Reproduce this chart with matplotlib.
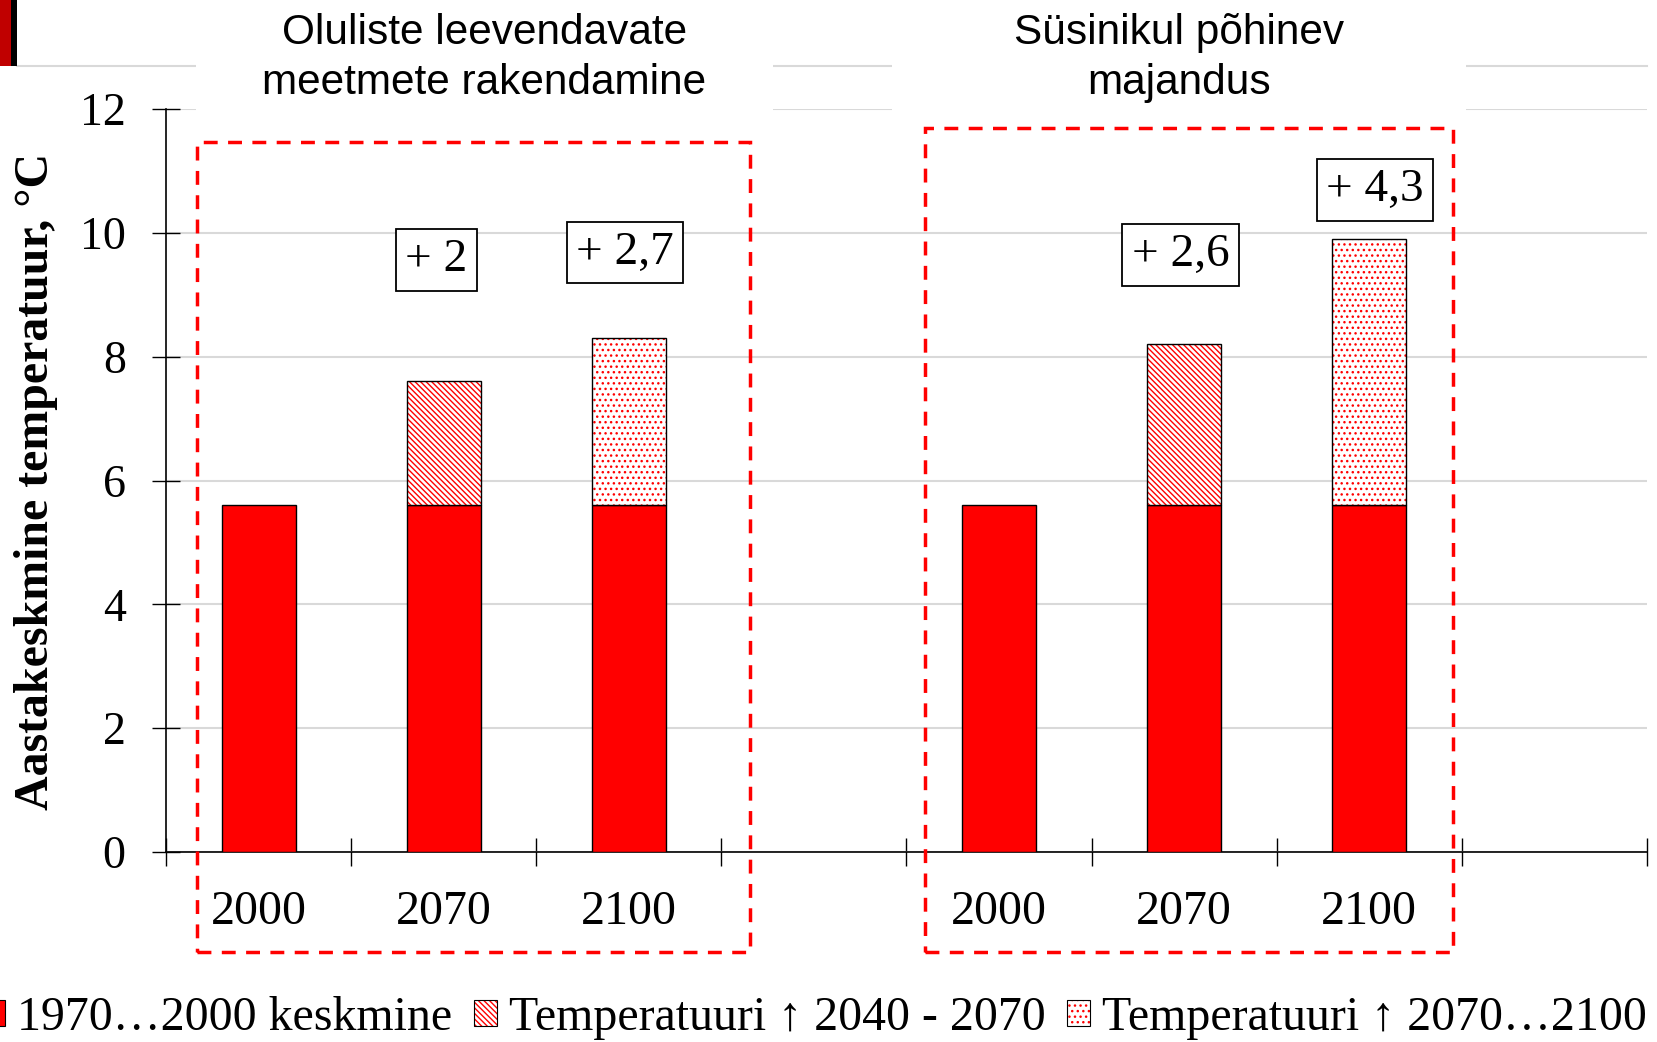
import matplotlib
matplotlib.use('Agg')
import matplotlib.pyplot as plt
from matplotlib.patches import Patch, Rectangle
from matplotlib.lines import Line2D
import numpy as np

# ---------------- data ----------------
categories = ['2000', '2070', '2100', '', '2000', '2070', '2100', '']
baseline = [5.6, 5.6, 5.6, 0, 5.6, 5.6, 5.6, 0]
rise_2070 = [0, 2.0, 0, 0, 0, 2.6, 0, 0]
rise_2100 = [0, 0, 2.7, 0, 0, 0, 4.3, 0]
rise_labels = ['', '+ 2', '+ 2,7', '', '', '+ 2,6', '+ 4,3', '']
scenario_titles = ['Oluliste leevendavate\nmeetmete rakendamine',
                   'Süsinikul põhinev\nmajandus']
legend_labels = ['1970…2000 keskmine', 'Temperatuuri ↑ 2040 - 2070',
                 'Temperatuuri ↑ 2070…2100']
yticks = [0, 2, 4, 6, 8, 10, 12]
ylabel = 'Aastakeskmine temperatuur, °C'

# ---------------- layout ----------------
W, H = 1658, 1042
DPI = 100
label_dx = [0, -0.04, -0.02, 0, 0, -0.02, 0.03, 0]
label_y = [0, 9.56, 9.68, 0, 0, 9.64, 10.69, 0]
SERIF = ['Liberation Serif', 'DejaVu Serif']
SANS = ['Liberation Sans', 'DejaVu Sans']
RED = '#ff0000'

fig = plt.figure(figsize=(W / DPI, H / DPI), dpi=DPI)
fig.patch.set_facecolor('white')

def fx(px):
    return px / W

def fy(py):
    return 1 - py / H

ax = fig.add_axes([fx(166), fy(852), fx(1647) - fx(166), fy(109) - fy(852)])

x = np.arange(len(categories))
w = 0.4

base_x = [xi for xi, b in zip(x, baseline) if b > 0]
base_v = [b for b in baseline if b > 0]
ax.bar(base_x, base_v, w, color=RED, edgecolor='black', linewidth=1, zorder=3)

hatches = ['\\\\\\\\\\\\', '...']
for rise, hatch in zip([rise_2070, rise_2100], hatches):
    rx = [xi for xi, r in zip(x, rise) if r > 0]
    rv = [r for r in rise if r > 0]
    rb = [b for b, r in zip(baseline, rise) if r > 0]
    ax.bar(rx, rv, w, bottom=rb, facecolor='white', edgecolor=RED,
           hatch=hatch, linewidth=0, zorder=3)
    ax.bar(rx, rv, w, bottom=rb, fill=False, edgecolor='black',
           linewidth=1, zorder=4)

for xi, lab, dx, ly in zip(x, rise_labels, label_dx, label_y):
    if lab:
        ax.text(xi + dx, ly, lab, ha='center', va='center', fontsize=34,
                family=SERIF, zorder=6,
                bbox=dict(boxstyle='square,pad=0.2', facecolor='white',
                          edgecolor='black', linewidth=1.3))

ax.set_xlim(-0.5, len(categories) - 0.5)
ax.set_ylim(0, 12)
ax.set_yticks(yticks)
ax.set_yticklabels([str(t) for t in yticks], family=SERIF, fontsize=33)
ax.set_xticks(x)
ax.set_xticklabels(categories, family=SERIF, fontsize=34.5)
ax.set_xticks(np.arange(-0.5, len(categories), 1), minor=True)
ax.tick_params(axis='x', which='major', length=0, pad=27)
ax.tick_params(axis='x', which='minor', length=20, width=1, direction='inout')
ax.tick_params(axis='y', which='major', length=20, width=1, direction='inout', pad=19)

for s in ['top', 'right']:
    ax.spines[s].set_visible(False)
for s in ['left', 'bottom']:
    ax.spines[s].set_linewidth(1.2)
ax.yaxis.grid(True, color='#d9d9d9', linewidth=1.5)
ax.set_axisbelow(True)

# y label
fig.text(fx(36), fy(481), ylabel, rotation=90, ha='center', va='center',
         fontsize=34.5, fontweight='bold', family=SERIF)

# header line & decoration
fig.add_artist(Line2D([fx(17), fx(1647)], [fy(66), fy(66)], color='#d9d9d9',
                      linewidth=1.5, zorder=1))
fig.add_artist(Rectangle((0, fy(66)), fx(11), fy(0) - fy(66), facecolor='#c00000',
                         edgecolor='none', transform=fig.transFigure, zorder=2))
fig.add_artist(Rectangle((fx(11), fy(66)), fx(6), fy(0) - fy(66), facecolor='black',
                         edgecolor='none', transform=fig.transFigure, zorder=2))

# title white boxes
for (x0, x1), title in zip([(196, 773), (892, 1466)], scenario_titles):
    fig.add_artist(Rectangle((fx(x0), fy(113)), fx(x1) - fx(x0), fy(0) - fy(113),
                             facecolor='white', edgecolor='none',
                             transform=fig.transFigure, zorder=3))
    fig.text(fx((x0 + x1) / 2), fy(58), title, ha='center', va='center',
             fontsize=30.5, family=SANS, linespacing=1.34, zorder=4)

# red dashed scenario frames
for (x0, x1, y0, y1) in [(197, 750, 142, 952), (925, 1453, 128, 952)]:
    fig.add_artist(Rectangle((fx(x0), fy(y1)), fx(x1) - fx(x0), fy(y0) - fy(y1),
                             fill=False, edgecolor=RED, linewidth=2.5,
                             linestyle=(0, (4, 3)), transform=fig.transFigure,
                             zorder=5))

# legend
h1 = Patch(facecolor=RED, edgecolor='black', linewidth=0.8)
h2 = (Patch(facecolor='white', edgecolor=RED, hatch=hatches[0], linewidth=0),
      Patch(fill=False, edgecolor='black', linewidth=0.8))
h3 = (Patch(facecolor='white', edgecolor=RED, hatch=hatches[1], linewidth=0),
      Patch(fill=False, edgecolor='black', linewidth=0.8))
fig.legend([h1, h2, h3], legend_labels, loc='center left',
           bbox_to_anchor=(fx(-18), fy(1018)), ncol=3, frameon=False,
           prop={'family': SERIF, 'size': 34.5}, handlelength=0.48,
           handleheight=0.48, handletextpad=0.25, columnspacing=0.45,
           borderpad=0, borderaxespad=0)

fig.savefig('out.png', dpi=DPI)
